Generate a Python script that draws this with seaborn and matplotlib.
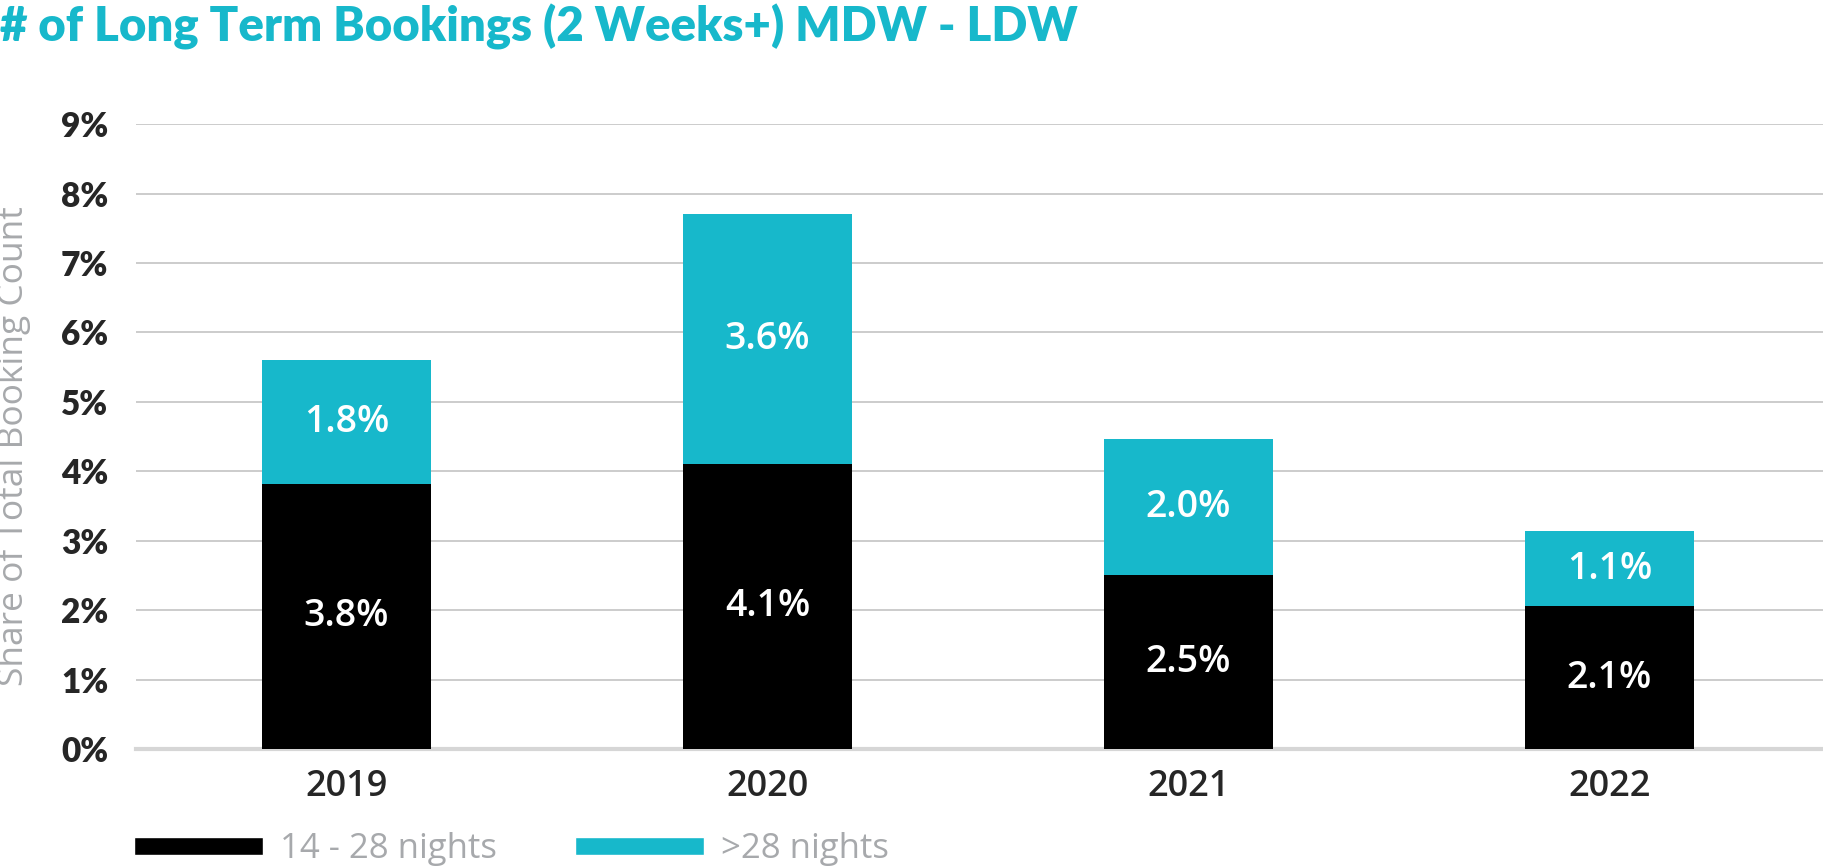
import pandas as pd
import matplotlib
matplotlib.use('Agg')
from matplotlib import pyplot as plt
from matplotlib.patches import Patch
import seaborn as sns

# Werte (in %)
years = ['2019', '2020', '2021', '2022']
nights_14_28 = [3.82, 4.11, 2.51, 2.06]
nights_28_plus = [1.79, 3.60, 1.96, 1.08]
series_names = ['14 - 28 nights', '>28 nights']

CYAN = '#17B8CB'
GRAY = '#A7A9AC'

df = pd.DataFrame({'year': years, 'short': nights_14_28, 'long': nights_28_plus})
df['total'] = df['short'] + df['long']

sns.set_style('white')
plt.rcParams['font.family'] = ['Open Sans', 'DejaVu Sans']

fig = plt.figure(figsize=(18.24, 8.68), dpi=100)
ax = fig.add_axes([0.0746, 0.137, 0.9254, 0.72])

sns.barplot(data=df, x='year', y='total', color=CYAN, width=0.4, saturation=1, ax=ax,
            zorder=3, linewidth=0)
sns.barplot(data=df, x='year', y='short', color='black', width=0.4, saturation=1, ax=ax,
            zorder=3, linewidth=0)

# Beschriftungen in den Balken
for i, row in df.iterrows():
    ax.text(i, row['short'] / 2, f"{row['short']:.1f}%", ha='center', va='center',
            color='white', fontsize=27, fontweight='semibold', zorder=4)
    ax.text(i, row['short'] + row['long'] / 2, f"{row['long']:.1f}%", ha='center', va='center',
            color='white', fontsize=27, fontweight='semibold', zorder=4)

ax.set_ylim(0, 9)
ax.set_xlim(-0.5, 3.51)
ax.set_yticks(range(0, 10))
ax.set_yticklabels([f'{v}%' for v in range(0, 10)], fontsize=24, fontweight='heavy',
                   family=['Lato', 'DejaVu Sans'])
ax.tick_params(axis='y', length=0, pad=20)
ax.tick_params(axis='x', length=0, pad=14, labelsize=26)
for lbl in ax.get_xticklabels():
    lbl.set_fontweight('semibold')
ax.grid(axis='y', color='#C4C4C4', linewidth=1.2, zorder=0)
ax.grid(axis='x', visible=False)
for s in ['top', 'right', 'left']:
    ax.spines[s].set_visible(False)
ax.spines['bottom'].set_color('#D6D6D6')
ax.spines['bottom'].set_linewidth(3)
ax.set_xlabel('')
ax.set_ylabel('')
fig.text(-0.002, 0.486, 'Share of Total Booking Count', fontsize=25.5, color=GRAY,
         rotation=90, ha='left', va='center')

fig.text(0.0, 0.995, '# of Long Term Bookings (2 Weeks+) MDW - LDW', fontsize=34,
         fontweight='heavy', color=CYAN, ha='left', va='top', family=['Lato', 'DejaVu Sans'])

handles = [Patch(facecolor='black'), Patch(facecolor=CYAN)]
leg = fig.legend(handles, series_names, loc='lower left', bbox_to_anchor=(0.0565, -0.034),
                 ncol=2, frameon=False, fontsize=25, handlelength=3.7, handleheight=0.42,
                 handletextpad=0.5, columnspacing=2.25)
for t in leg.get_texts():
    t.set_color(GRAY)

fig.savefig('out.png', dpi=100)
